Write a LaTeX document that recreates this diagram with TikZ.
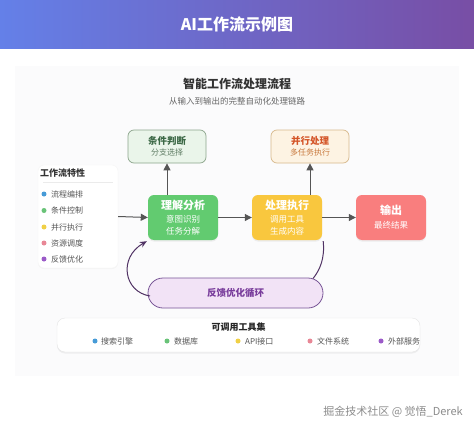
\documentclass[tikz,border=0pt]{standalone}
\usepackage{fontspec}
\setmainfont{Noto Sans CJK SC}
\usetikzlibrary{arrows.meta,shadows,calc}
\definecolor{hdrL}{RGB}{100,128,232}
\definecolor{hdrR}{RGB}{120,78,165}
\definecolor{panelbg}{RGB}{251,251,252}
\definecolor{arr}{RGB}{85,85,85}
\definecolor{undC}{RGB}{98,203,112}
\definecolor{procC}{RGB}{249,199,62}
\definecolor{outC}{RGB}{249,126,126}
\definecolor{condF}{RGB}{234,245,234}
\definecolor{condB}{RGB}{140,165,140}
\definecolor{condT}{RGB}{60,105,70}
\definecolor{condS}{RGB}{95,125,100}
\definecolor{paraF}{RGB}{253,243,227}
\definecolor{paraB}{RGB}{215,185,140}
\definecolor{paraT}{RGB}{212,85,40}
\definecolor{paraS}{RGB}{200,120,60}
\definecolor{pillF}{RGB}{242,227,246}
\definecolor{pillB}{RGB}{120,85,150}
\definecolor{pillT}{RGB}{120,60,155}
\definecolor{loopC}{RGB}{80,50,100}
\definecolor{dBlue}{RGB}{70,155,215}
\definecolor{dGreen}{RGB}{105,195,120}
\definecolor{dYellow}{RGB}{240,208,70}
\definecolor{dPink}{RGB}{232,135,150}
\definecolor{dPurple}{RGB}{155,90,200}
\definecolor{txtg}{RGB}{85,85,85}
\tikzset{
  mainbox/.style={rounded corners=6pt, minimum width=70pt, minimum height=45pt, align=center, text=white, inner sep=0pt, drop shadow={opacity=0.12, shadow xshift=0pt, shadow yshift=-1.5pt}},
  subbox/.style={rounded corners=6pt, minimum width=78pt, minimum height=33pt, align=center, inner sep=0pt, line width=0.7pt},
  flow/.style={arr, line width=1pt, -{Triangle[length=7pt,width=7pt]}},
  dot/.style={circle, inner sep=0pt, minimum size=5pt},
  itemtxt/.style={anchor=west, text=txtg, font=\fontsize{8}{9}\selectfont, inner sep=0pt},
}
\begin{document}
\begin{tikzpicture}[x=1pt,y=-1pt]
\useasboundingbox (0,0) rectangle (474,431);
\fill[white] (0,0) rectangle (474,431);
% header
\shade[left color=hdrL, right color=hdrR] (0,0) rectangle (474,48);
\node[text=white, font=\bfseries\fontsize{16}{18}\selectfont] (hdr) at (237,24) {AI工作流示例图};
% panel
\fill[panelbg] (15,66) rectangle (459,376);
\node[text=black!80, font=\bfseries\fontsize{12}{14}\selectfont] (ttl) at (237,84) {智能工作流处理流程};
\node[text=black!60, font=\fontsize{8.5}{10}\selectfont] (sub) at (237,101) {从输入到输出的完整自动化处理链路};
% features panel
\node[fill=white, rounded corners=6pt, minimum width=80pt, minimum height=103pt, draw=black!4, drop shadow={opacity=0.05, shadow xshift=0pt, shadow yshift=-1pt}] (feat) at (78,216.5) {};
\node[anchor=west, text=black!80, font=\bfseries\fontsize{9}{10}\selectfont, inner sep=0pt] (featT) at (40,173) {工作流特性};
\draw[black!8, line width=0.6pt] (43,182) -- (113,182);
\node[dot, fill=dBlue] (d1) at (44,194) {};
\node[itemtxt] (t1) at (51,194) {流程编排};
\node[dot, fill=dGreen] (d2) at (44,210.5) {};
\node[itemtxt] (t2) at (51,210.5) {条件控制};
\node[dot, fill=dYellow] (d3) at (44,227) {};
\node[itemtxt] (t3) at (51,227) {并行执行};
\node[dot, fill=dPink] (d4) at (44,243) {};
\node[itemtxt] (t4) at (51,243) {资源调度};
\node[dot, fill=dPurple] (d5) at (44,259) {};
\node[itemtxt] (t5) at (51,259) {反馈优化};
% sub boxes
\node[subbox, fill=condF, draw=condB] (cond) at (167,146.5) {{\color{condT}\bfseries\fontsize{9.5}{11}\selectfont 条件判断}\\[-1pt]{\color{condS}\fontsize{8}{9}\selectfont 分支选择}};
\node[subbox, fill=paraF, draw=paraB] (para) at (310,146.5) {{\color{paraT}\bfseries\fontsize{9.5}{11}\selectfont 并行处理}\\[-1pt]{\color{paraS}\fontsize{8}{9}\selectfont 多任务执行}};
% main boxes
\node[mainbox, fill=undC] (und) at (183,217.5) {{\bfseries\fontsize{11}{13}\selectfont 理解分析}\\[1pt]{\fontsize{8.5}{9.5}\selectfont 意图识别}\\{\fontsize{8.5}{9.5}\selectfont 任务分解}};
\node[mainbox, fill=procC] (proc) at (287,217.5) {{\bfseries\fontsize{11}{13}\selectfont 处理执行}\\[1pt]{\fontsize{8.5}{9.5}\selectfont 调用工具}\\{\fontsize{8.5}{9.5}\selectfont 生成内容}};
\node[mainbox, fill=outC] (out) at (391,217.5) {{\bfseries\fontsize{11}{13}\selectfont 输出}\\[2pt]{\fontsize{8.5}{9.5}\selectfont 最终结果}};
% arrows
\draw[flow] (feat.east) -- (und.west);
\draw[flow] (und.east) -- (proc.west);
\draw[flow] (proc.east) -- (out.west);
\draw[flow] (und.north -| cond.south) -- (cond.south);
\draw[flow] (proc.north -| para.south) -- (para.south);
% feedback pill
\node[fill=pillF, draw=pillB, line width=0.8pt, rounded corners=15pt, minimum width=175pt, minimum height=30pt, text=pillT, font=\bfseries\fontsize{9.5}{11}\selectfont] (pill) at (235.5,293) {反馈优化循环};
\coordinate (pr) at (313,278.5);
\coordinate (pl) at (150,296);
\draw[loopC, line width=1pt] ($(proc.south east)+(1,1)$) .. controls (325,258) and (320,270) .. (pr);
\draw[loopC, line width=1pt, -{Stealth[length=7pt,width=6pt]}] (pl) .. controls (124,292) and (118,258) .. ($(und.south west)+(-1,1)$);
% tools panel
\node[fill=white, draw=black!10, rounded corners=8pt, minimum width=363pt, minimum height=34pt, drop shadow={opacity=0.1, shadow xshift=0pt, shadow yshift=-1.5pt}] (tools) at (238.5,335) {};
\node[text=black!85, font=\bfseries\fontsize{9}{10}\selectfont] (toolsT) at (238.5,327) {可调用工具集};
\node[dot, fill=dBlue] (e1) at (95,341) {};
\node[itemtxt] (u1) at (101,341) {搜索引擎};
\node[dot, fill=dGreen] (e2) at (167,341) {};
\node[itemtxt] (u2) at (174,341) {数据库};
\node[dot, fill=dYellow] (e3) at (238,341) {};
\node[itemtxt] (u3) at (245,341) {API接口};
\node[dot, fill=dPink] (e4) at (310,341) {};
\node[itemtxt] (u4) at (317,341) {文件系统};
\node[dot, fill=dPurple] (e5) at (381,341) {};
\node[itemtxt] (u5) at (388,341) {外部服务};
% watermark
\node[anchor=east, text=black!45, font=\fontsize{11}{12}\selectfont, inner sep=0pt] (wm) at (463,412) {掘金技术社区 @ 觉悟\_Derek};
\end{tikzpicture}
\end{document}
